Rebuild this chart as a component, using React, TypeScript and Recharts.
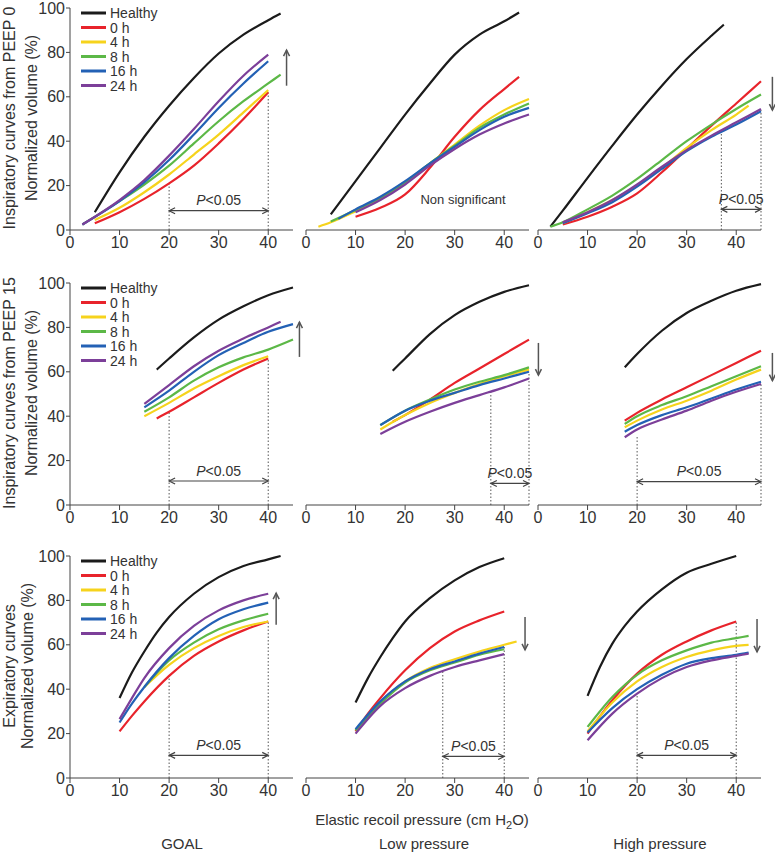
import React from "react";
import { LineChart, Line, XAxis, YAxis, ReferenceLine, ReferenceDot } from "recharts";

type XY = [number, number];

const seriesNames = ["Healthy", "0 h", "4 h", "8 h", "16 h", "24 h"];
const seriesColors = ["#1b1b1b", "#e8232b", "#f6d31c", "#5cb847", "#2361b5", "#7c3f99"];
const xTicks = [0, 10, 20, 30, 40];
const yTicks = [0, 20, 40, 60, 80, 100];
const columnTitles = ["GOAL", "Low pressure", "High pressure"];
const rowTitles = [
  ["Inspiratory curves from PEEP 0", "Normalized volume (%)"],
  ["Inspiratory curves from PEEP 15", "Normalized volume (%)"],
  ["Expiratory curves", "Normalized volume (%)"],
];

// curves per panel, order: Healthy, 0 h, 4 h, 8 h, 16 h, 24 h
const insp0Goal: XY[][] = [
  [[5, 8], [10, 26], [15, 42], [20, 56], [25, 68.5], [30, 79.5], [35, 88], [40, 94.5], [42.5, 97.5]],
  [[5, 3], [10, 8], [15, 14], [20, 21], [25, 29], [30, 39], [35, 50], [40, 62]],
  [[5, 4.5], [10, 10], [15, 17], [20, 25], [25, 34], [30, 43], [35, 53], [40, 63]],
  [[2.5, 2.5], [10, 13], [15, 20.5], [20, 29], [25, 39], [30, 49], [35, 58], [40, 66], [42.5, 70]],
  [[2.5, 2.5], [10, 13], [15, 21.5], [20, 31.5], [25, 43], [30, 55], [35, 66], [40, 76]],
  [[2.5, 2.5], [10, 13.5], [15, 22.5], [20, 33.5], [25, 45.5], [30, 58], [35, 69.5], [40, 79]],
];
const insp0Low: XY[][] = [
  [[5, 7], [10, 22], [15, 37], [20, 52], [25, 66], [30, 79], [35, 88], [40, 94], [43, 98]],
  [[10, 6], [15, 10], [20, 16], [25, 28], [30, 42], [35, 54], [40, 63.5], [43, 69]],
  [[2.5, 1.5], [5, 3.5], [10, 8.5], [15, 14], [20, 21], [25, 30], [30, 38.5], [35, 47], [40, 54], [45, 59]],
  [[5, 3.8], [10, 9], [15, 14.5], [20, 21.5], [25, 30], [30, 38], [35, 46], [40, 52], [45, 57]],
  [[6.5, 5], [10, 9.3], [15, 15], [20, 22], [25, 30], [30, 37.5], [35, 45], [40, 51], [45, 55]],
  [[10, 8], [15, 13.5], [20, 20.5], [25, 29], [30, 36.5], [35, 43], [40, 48], [45, 52]],
];
const insp0High: XY[][] = [
  [[2.5, 1.5], [5, 8.7], [10, 23.5], [15, 38], [20, 52], [25, 65], [30, 77], [35, 87.5], [37.5, 92.5]],
  [[5, 2.5], [10, 6], [15, 10.5], [20, 16.5], [25, 26], [30, 36.5], [35, 47], [40, 57], [45, 67]],
  [[5, 3], [10, 8], [15, 13.5], [20, 20], [25, 28], [30, 37], [35, 45], [40, 52], [42.5, 56]],
  [[2.5, 1.5], [5, 3.5], [10, 9.3], [15, 15.5], [20, 23], [25, 31.5], [30, 40], [35, 47.5], [40, 54.5], [45, 61]],
  [[5, 3], [10, 7.5], [15, 12.5], [20, 19.5], [25, 27.5], [30, 35.5], [35, 42], [40, 47.5], [45, 53.5]],
  [[5, 3.5], [10, 8], [15, 13.5], [20, 20.5], [25, 28.5], [30, 36], [35, 42.5], [40, 48.5], [45, 54.5]],
];
const insp15Goal: XY[][] = [
  [[17.5, 61], [20, 66], [25, 75.5], [30, 83.5], [35, 89.5], [40, 94.5], [45, 98]],
  [[17.5, 39], [20, 42], [25, 48.5], [30, 55], [35, 61], [40, 66]],
  [[15, 40], [20, 46], [25, 52.5], [30, 58], [35, 63], [40, 67]],
  [[15, 42], [20, 48.5], [25, 56], [30, 62], [35, 66.5], [40, 70], [45, 74.5]],
  [[15, 44], [20, 51.5], [25, 60], [30, 67.5], [35, 73], [40, 78], [45, 81.5]],
  [[15, 45.5], [20, 54], [25, 62.5], [30, 69.5], [35, 75], [40, 80], [42.5, 82.5]],
];
const insp15Low: XY[][] = [
  [[17.5, 60.5], [20, 66], [25, 77], [30, 85.5], [35, 91.5], [40, 96], [45, 99]],
  [[17.5, 37.5], [20, 40.5], [25, 47.5], [30, 55], [35, 61.5], [40, 68], [45, 74.5]],
  [[15, 34], [20, 40.5], [25, 46], [30, 50.5], [35, 54.5], [40, 58], [45, 61]],
  [[15, 36], [20, 42.5], [25, 47.5], [30, 52], [35, 55.5], [40, 58.5], [45, 62]],
  [[15, 36], [20, 42.5], [25, 47], [30, 50.5], [35, 54], [40, 57], [45, 60]],
  [[15, 32], [20, 37.5], [25, 42], [30, 46], [35, 49.5], [40, 53], [45, 57]],
];
const insp15High: XY[][] = [
  [[17.5, 62], [20, 68], [25, 78.5], [30, 86.5], [35, 92], [40, 96.5], [45, 99.5]],
  [[17.5, 38], [20, 41.5], [25, 47.5], [30, 53], [35, 58.5], [40, 64], [45, 69.5]],
  [[17.5, 35], [20, 38], [25, 43], [30, 47], [35, 51.5], [40, 56.5], [45, 61]],
  [[17.5, 36.5], [20, 40], [25, 45], [30, 49], [35, 53.5], [40, 58], [45, 62.5]],
  [[17.5, 33], [20, 36], [25, 40.5], [30, 44], [35, 48], [40, 52], [45, 55.5]],
  [[17.5, 30.5], [20, 34], [25, 38.5], [30, 42.5], [35, 47], [40, 51], [45, 54.5]],
];
const expGoal: XY[][] = [
  [[10, 36], [12.5, 47.5], [15, 57], [17.5, 65.5], [20, 72.5], [25, 83], [30, 90.5], [35, 95.5], [40, 98.5], [42.5, 100]],
  [[10, 21], [12.5, 28], [15, 34.5], [20, 46], [25, 55], [30, 61.5], [35, 66.5], [40, 70.5]],
  [[15, 41], [20, 51], [25, 58.5], [30, 64], [35, 68], [40, 70.5]],
  [[15, 41], [20, 53], [25, 61], [30, 67], [35, 71], [40, 74]],
  [[10, 25], [12.5, 33.5], [15, 41], [20, 54], [25, 64], [30, 71.5], [35, 76], [40, 79]],
  [[10, 26.5], [12.5, 36], [15, 45], [20, 58.5], [25, 68.5], [30, 75.5], [35, 80], [40, 83]],
];
const expLow: XY[][] = [
  [[10, 34], [12.5, 45], [15, 54.5], [17.5, 63], [20, 70.5], [25, 81], [30, 89], [35, 95], [40, 99]],
  [[10, 21], [12.5, 29], [15, 36], [20, 48.5], [25, 58.5], [30, 66], [35, 71], [40, 75]],
  [[10, 21.5], [15, 34], [20, 43.5], [25, 49.5], [30, 53.5], [35, 57], [40, 60], [42.5, 61.5]],
  [[10, 21.5], [15, 33.5], [20, 43], [25, 48.5], [30, 52], [35, 55.5], [40, 58]],
  [[10, 22], [15, 34.5], [20, 43.5], [25, 49], [30, 52.5], [35, 56], [40, 59]],
  [[10, 20], [15, 32.5], [20, 40.5], [25, 46], [30, 50], [35, 53], [40, 55.8]],
];
const expHigh: XY[][] = [
  [[10, 37], [12.5, 50], [15, 60.5], [17.5, 68.5], [20, 75], [25, 85], [30, 92.5], [35, 96.5], [40, 100]],
  [[10, 20], [15, 35], [20, 47], [25, 55.5], [30, 61.5], [35, 66.5], [40, 70.5]],
  [[10, 21], [15, 34], [20, 43.5], [25, 50], [30, 54.5], [35, 57.5], [40, 59.5], [42.5, 60]],
  [[10, 23], [15, 36.5], [20, 46.5], [25, 53], [30, 57.5], [35, 61], [40, 63], [42.5, 64]],
  [[10, 20.5], [15, 31.5], [20, 40], [25, 46.5], [30, 51.5], [35, 54], [40, 55.5], [42.5, 56.5]],
  [[10, 17], [15, 29], [20, 38], [25, 45], [30, 50], [35, 53], [40, 55], [42.5, 56]],
];

const panels = [insp0Goal, insp0Low, insp0High, insp15Goal, insp15Low, insp15High, expGoal, expLow, expHigh];

// dotted guides [x, top], P<0.05 bracket [from, to, y], trend arrow [x, from, to]
const guides: XY[][] = [
  [[20, 21], [40, 62]], [], [[37, 45], [45, 54]],
  [[20, 42], [40, 66]], [[37.3, 51], [45, 60]], [[20, 31.5], [45, 55]],
  [[20, 46], [40, 70.5]], [[27.6, 48.6], [40, 59]], [[20, 37], [40, 70.5]],
];
const brackets: (number[] | null)[] = [
  [20, 40, 8.7], null, [37, 45, 9.3],
  [20, 40, 10.8], [37.3, 45, 9.7], [20, 45, 10.5],
  [20, 40, 10.2], [27.6, 40, 9.7], [20, 40, 10.2],
];
const trends: (number[] | null)[] = [
  [43.7, 65, 81], null, [47.3, 69, 54],
  [46.3, 66.7, 82.4], [46.9, 73, 58.5], [47.3, 68.5, 56],
  [41.6, 69, 83.3], [44.2, 72.5, 57.7], [44.2, 71.6, 56.8],
];

const PLOT_W = 223;
const PLOT_H = 222;
const COL_X = [70, 306, 538];
const ROW_Y = [8, 283, 556];
const INK = "#444";

function head(tx: number, ty: number, ux: number, uy: number) {
  const len = 6, half = 3;
  const bx = tx - ux * len, by = ty - uy * len;
  return `M${bx - uy * half},${by + ux * half}L${tx},${ty}L${bx + uy * half},${by - ux * half}`;
}

function Bracket(p: any) {
  const { x1, y1, x2, y2 } = p;
  const L = Math.hypot(x2 - x1, y2 - y1) || 1;
  const ux = (x2 - x1) / L, uy = (y2 - y1) / L;
  return (
    <g>
      <line x1={x1} y1={y1} x2={x2} y2={y2} stroke={INK} strokeWidth={1.2} />
      <path d={head(x2, y2, ux, uy) + head(x1, y1, -ux, -uy)} fill="none" stroke={INK} strokeWidth={1.2} />
      <text x={(x1 + x2) / 2} y={y1 - 5.5} textAnchor="middle" fontSize={14} fill="#333">
        <tspan fontStyle="italic">P</tspan>
        <tspan>{"<0.05"}</tspan>
      </text>
    </g>
  );
}

function Trend(p: any) {
  const { x1, y1, x2, y2 } = p;
  const L = Math.hypot(x2 - x1, y2 - y1) || 1;
  return (
    <g>
      <line x1={x1} y1={y1} x2={x2} y2={y2} stroke="#555" strokeWidth={1.5} />
      <path d={head(x2, y2, (x2 - x1) / L, (y2 - y1) / L)} fill="none" stroke="#555" strokeWidth={1.5} />
    </g>
  );
}

function Panel({ idx }: { idx: number }) {
  const row = Math.floor(idx / 3);
  const col = idx % 3;
  const padL = col === 0 ? 40 : 6;
  const br = brackets[idx];
  const tr = trends[idx];
  return (
    <div style={{ position: "absolute", left: COL_X[col] - padL, top: ROW_Y[row] - 8 }}>
      <LineChart
        width={padL + PLOT_W + 14}
        height={8 + PLOT_H + 30}
        margin={{ top: 8, right: 14, bottom: 0, left: col === 0 ? 0 : 6 }}
      >
        <XAxis
          type="number"
          dataKey="x"
          domain={[0, 45]}
          ticks={xTicks}
          interval={0}
          height={30}
          tickSize={5}
          tickMargin={2}
          stroke={INK}
          tick={{ fontSize: 16, fill: "#333" }}
        />
        <YAxis
          type="number"
          domain={[0, 100]}
          ticks={yTicks}
          interval={0}
          width={40}
          hide={col > 0}
          tickSize={4}
          tickMargin={1}
          stroke={INK}
          tick={{ fontSize: 16, fill: "#333" }}
        />
        {guides[idx].map(([gx, gy], i) => (
          <ReferenceLine
            key={"g" + i}
            segment={[{ x: gx, y: 0 }, { x: gx, y: gy }]}
            stroke="#555"
            strokeWidth={1}
            strokeDasharray="1.5 2"
            ifOverflow="visible"
          />
        ))}
        {br && (
          <ReferenceLine
            segment={[{ x: br[0], y: br[2] }, { x: br[1], y: br[2] }]}
            ifOverflow="visible"
            shape={(p: any) => <Bracket {...p} />}
          />
        )}
        {tr && (
          <ReferenceLine
            segment={[{ x: tr[0], y: tr[1] }, { x: tr[0], y: tr[2] }]}
            ifOverflow="visible"
            shape={(p: any) => <Trend {...p} />}
          />
        )}
        {idx === 1 && (
          <ReferenceDot
            x={31.7}
            y={14}
            r={0}
            ifOverflow="visible"
            label={{ value: "Non significant", position: "center", fontSize: 13, fill: "#333" }}
          />
        )}
        {panels[idx].map((pts, i) => (
          <Line
            key={seriesNames[i]}
            data={pts.map(([x, y]) => ({ x, y }))}
            dataKey="y"
            name={seriesNames[i]}
            type="monotone"
            stroke={seriesColors[i]}
            strokeWidth={2.2}
            dot={false}
            activeDot={false}
            isAnimationActive={false}
          />
        ))}
      </LineChart>
    </div>
  );
}

const yLabelX = [[9.5, 31.5], [9.5, 31], [9.7, 27]];
const titleX = [182, 424, 660];

export default function App() {
  return (
    <div
      style={{
        position: "absolute",
        left: 0,
        top: 0,
        width: 775,
        height: 853,
        background: "#fff",
        fontFamily: "Arial, 'Liberation Sans', Helvetica, sans-serif",
      }}
    >
      <svg width={775} height={853} style={{ position: "absolute", left: 0, top: 0 }}>
        {rowTitles.map((lines, r) => {
          const cy = ROW_Y[r] + PLOT_H / 2 - 1;
          return lines.map((t, k) => {
            const cx = yLabelX[r][k] + 0.36 * 16;
            return (
              <text key={r + "-" + k} x={cx} y={cy} transform={`rotate(-90 ${cx} ${cy})`} textAnchor="middle" fontSize={16} fill="#333">
                {t}
              </text>
            );
          });
        })}
        {ROW_Y.map((ry, r) =>
          seriesNames.map((n, i) => {
            const cy = ry + 5 + i * 14.5;
            return (
              <g key={r + n}>
                <line x1={81} x2={106} y1={cy} y2={cy} stroke={seriesColors[i]} strokeWidth={3} />
                <text x={110} y={cy + 0.36 * 14} fontSize={14} fill="#333">{n}</text>
              </g>
            );
          })
        )}
        <text x={422} y={824.5} textAnchor="middle" fontSize={15} fill="#333">
          <tspan>Elastic recoil pressure (cm H</tspan>
          <tspan fontSize={11} dy={4}>2</tspan>
          <tspan dy={-4}>O)</tspan>
        </text>
        {columnTitles.map((t, c) => (
          <text key={t} x={titleX[c]} y={848.5} textAnchor="middle" fontSize={15} fill="#333">{t}</text>
        ))}
      </svg>
      {panels.map((_, i) => (
        <Panel key={i} idx={i} />
      ))}
    </div>
  );
}
